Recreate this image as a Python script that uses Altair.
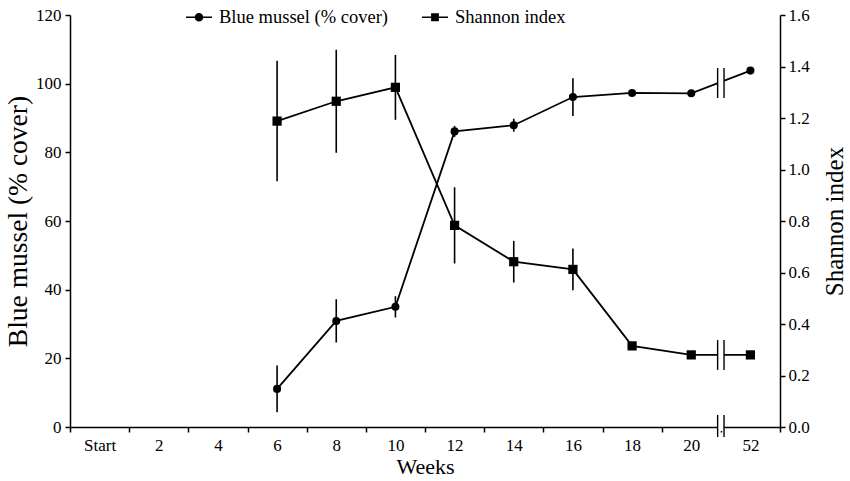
import altair as alt
import pandas as pd

# ---- data ----
weeks = ["Start", "2", "4", "6", "8", "10", "12", "14", "16", "18", "20", "52"]
data_weeks = ["6", "8", "10", "12", "14", "16", "18", "20", "52"]
mussel = [11.1, 30.9, 35.0, 86.1, 87.9, 96.1, 97.3, 97.2, 103.8]
mussel_err = [6.8, 6.3, 3.1, 1.6, 1.9, 5.5, 0.0, 0.0, 0.0]
shannon = [1.188, 1.265, 1.319, 0.783, 0.642, 0.612, 0.315, 0.28, 0.28]
shannon_err = [0.234, 0.20, 0.126, 0.148, 0.081, 0.081, 0.0, 0.0, 0.0]
series_names = ["Blue mussel (% cover)", "Shannon index"]
left_ticks = [0, 20, 40, 60, 80, 100, 120]
right_ticks = [0.0, 0.2, 0.4, 0.6, 0.8, 1.0, 1.2, 1.4, 1.6]
break_week = ["52"]
mussel_break_y = [100.2]
shannon_break_y = [0.28]
axis_break_y = [0.0]

FONT = "Liberation Serif"

m_df = pd.DataFrame({"week": data_weeks, "v": mussel, "err": mussel_err})
m_df["lo"] = m_df["v"] - m_df["err"]
m_df["hi"] = m_df["v"] + m_df["err"]
s_df = pd.DataFrame({"week": data_weeks, "v": shannon, "err": shannon_err})
s_df["lo"] = s_df["v"] - s_df["err"]
s_df["hi"] = s_df["v"] + s_df["err"]
leg_df = pd.DataFrame({"series": series_names})
mb_df = pd.DataFrame({"week": break_week, "v": mussel_break_y})
sb_df = pd.DataFrame({"week": break_week, "v": shannon_break_y})
ab_df = pd.DataFrame({"week": break_week, "v": axis_break_y})

x_axis = alt.Axis(
    tickBand="extent", labelFont=FONT, labelFontSize=17, labelColor="black",
    labelAngle=0, labelPadding=5, tickSize=5, tickColor="black", tickWidth=1.5,
    domainColor="black", domainWidth=1.5, title="Weeks", titleFont=FONT,
    titleFontSize=22, titleFontWeight="normal", titleColor="black", titlePadding=3,
    grid=False,
)
x_scale = alt.Scale(type="band", domain=weeks, paddingInner=0, paddingOuter=0)


def xenc(bp=0.5):
    return alt.X("week:N", sort=weeks, scale=x_scale, axis=x_axis, bandPosition=bp)


left_axis = alt.Axis(
    values=left_ticks, orient="left", labelFont=FONT, labelFontSize=17,
    labelColor="black", labelPadding=4, tickSize=5, tickColor="black",
    tickWidth=1.5, domainColor="black", domainWidth=1.5, grid=False,
    title="Blue mussel (% cover)", titleFont=FONT, titleFontSize=27.5,
    titleFontWeight="normal", titleColor="black", titlePadding=3,
)
right_axis = alt.Axis(
    values=right_ticks, format=".1f", orient="right", labelFont=FONT,
    labelFontSize=17, labelColor="black", labelPadding=3, tickSize=5,
    tickColor="black", tickWidth=1.5, domainColor="black", domainWidth=1.5,
    grid=False, title="Shannon index", titleFont=FONT, titleFontSize=25,
    titleFontWeight="normal", titleColor="black", titlePadding=13,
    titleAngle=270, titleBaseline="top",
)
left_scale = alt.Scale(domain=[0, 120], nice=False, zero=True)
right_scale = alt.Scale(domain=[0, 1.6], nice=False, zero=True)


def make_y(scale, axis):
    def f(field="v"):
        return alt.Y(field + ":Q", scale=scale, axis=axis)
    return f


y_left = make_y(left_scale, left_axis)
y_right = make_y(right_scale, right_axis)


def group(df, yf, shape, psize, brk_df):
    base = alt.Chart(df)
    line = base.mark_line(color="black", strokeWidth=1.8).encode(x=xenc(), y=yf())
    err = base.transform_filter("datum.err > 0").mark_rule(
        color="black", strokeWidth=1.6
    ).encode(x=xenc(), y=yf("lo"), y2="hi:Q")
    pts = base.mark_point(shape=shape, filled=True, color="black", opacity=1, size=psize).encode(
        x=xenc(), y=yf()
    )
    bb = alt.Chart(brk_df)
    white = bb.mark_rule(color="white", strokeWidth=6, yOffset=-7, y2Offset=7).encode(
        x=xenc(0), y=yf(), y2="v:Q"
    )
    b1 = bb.mark_rule(color="black", strokeWidth=1.4, xOffset=-3.2, yOffset=-15, y2Offset=15).encode(
        x=xenc(0), y=yf(), y2="v:Q"
    )
    b2 = bb.mark_rule(color="black", strokeWidth=1.4, xOffset=3.2, yOffset=-15, y2Offset=15).encode(
        x=xenc(0), y=yf(), y2="v:Q"
    )
    return [line, err, pts, white, b1, b2]


# legend symbols: thin filled bar (the line) plus marker, inside [-1, 1]
circ = ("M-1,-0.06L1,-0.06L1,0.06L-1,0.06Z"
        "M0.33,0A0.33,0.33,0,1,1,-0.33,0A0.33,0.33,0,1,1,0.33,0Z")
sq = ("M-1,-0.06L1,-0.06L1,0.06L-1,0.06Z"
      "M-0.3,-0.3L0.3,-0.3L0.3,0.3L-0.3,0.3Z")

legend_layer = alt.Chart(leg_df).transform_filter("false").mark_point(
    filled=True, color="black"
).encode(
    shape=alt.Shape(
        "series:N",
        scale=alt.Scale(domain=series_names, range=[circ, sq]),
        legend=alt.Legend(
            orient="none", legendX=116, legendY=-11, direction="horizontal",
            title=None, labelFont=FONT, labelFontSize=18.5, labelColor="black",
            labelLimit=0, symbolSize=676, symbolStrokeWidth=0,
            symbolFillColor="black", symbolOpacity=1, labelOffset=7,
            columnPadding=33,
        ),
    )
)

axis_break = alt.Chart(ab_df)
ab_white = axis_break.mark_rule(color="white", strokeWidth=6, yOffset=-4, y2Offset=4).encode(
    x=xenc(0), y=y_left(), y2="v:Q"
)
ab1 = axis_break.mark_rule(color="black", strokeWidth=1.4, xOffset=-3.2, yOffset=-12, y2Offset=10).encode(
    x=xenc(0), y=y_left(), y2="v:Q"
)
ab2 = axis_break.mark_rule(color="black", strokeWidth=1.4, xOffset=3.2, yOffset=-12, y2Offset=10).encode(
    x=xenc(0), y=y_left(), y2="v:Q"
)

left_group = alt.layer(
    *group(m_df, y_left, "circle", 65, mb_df), ab_white, ab1, ab2, legend_layer
)
right_group = alt.layer(*group(s_df, y_right, "square", 85, sb_df))

chart = (
    alt.layer(left_group, right_group)
    .resolve_scale(y="independent")
    .properties(
        width=710,
        height=412,
        autosize=alt.AutoSizeParams(type="none"),
        padding={"left": 70, "top": 15, "right": 70, "bottom": 54},
        background="white",
    )
    .configure_view(stroke=None)
)

chart.save("out.html", embed_options={"renderer": "svg", "actions": False})
